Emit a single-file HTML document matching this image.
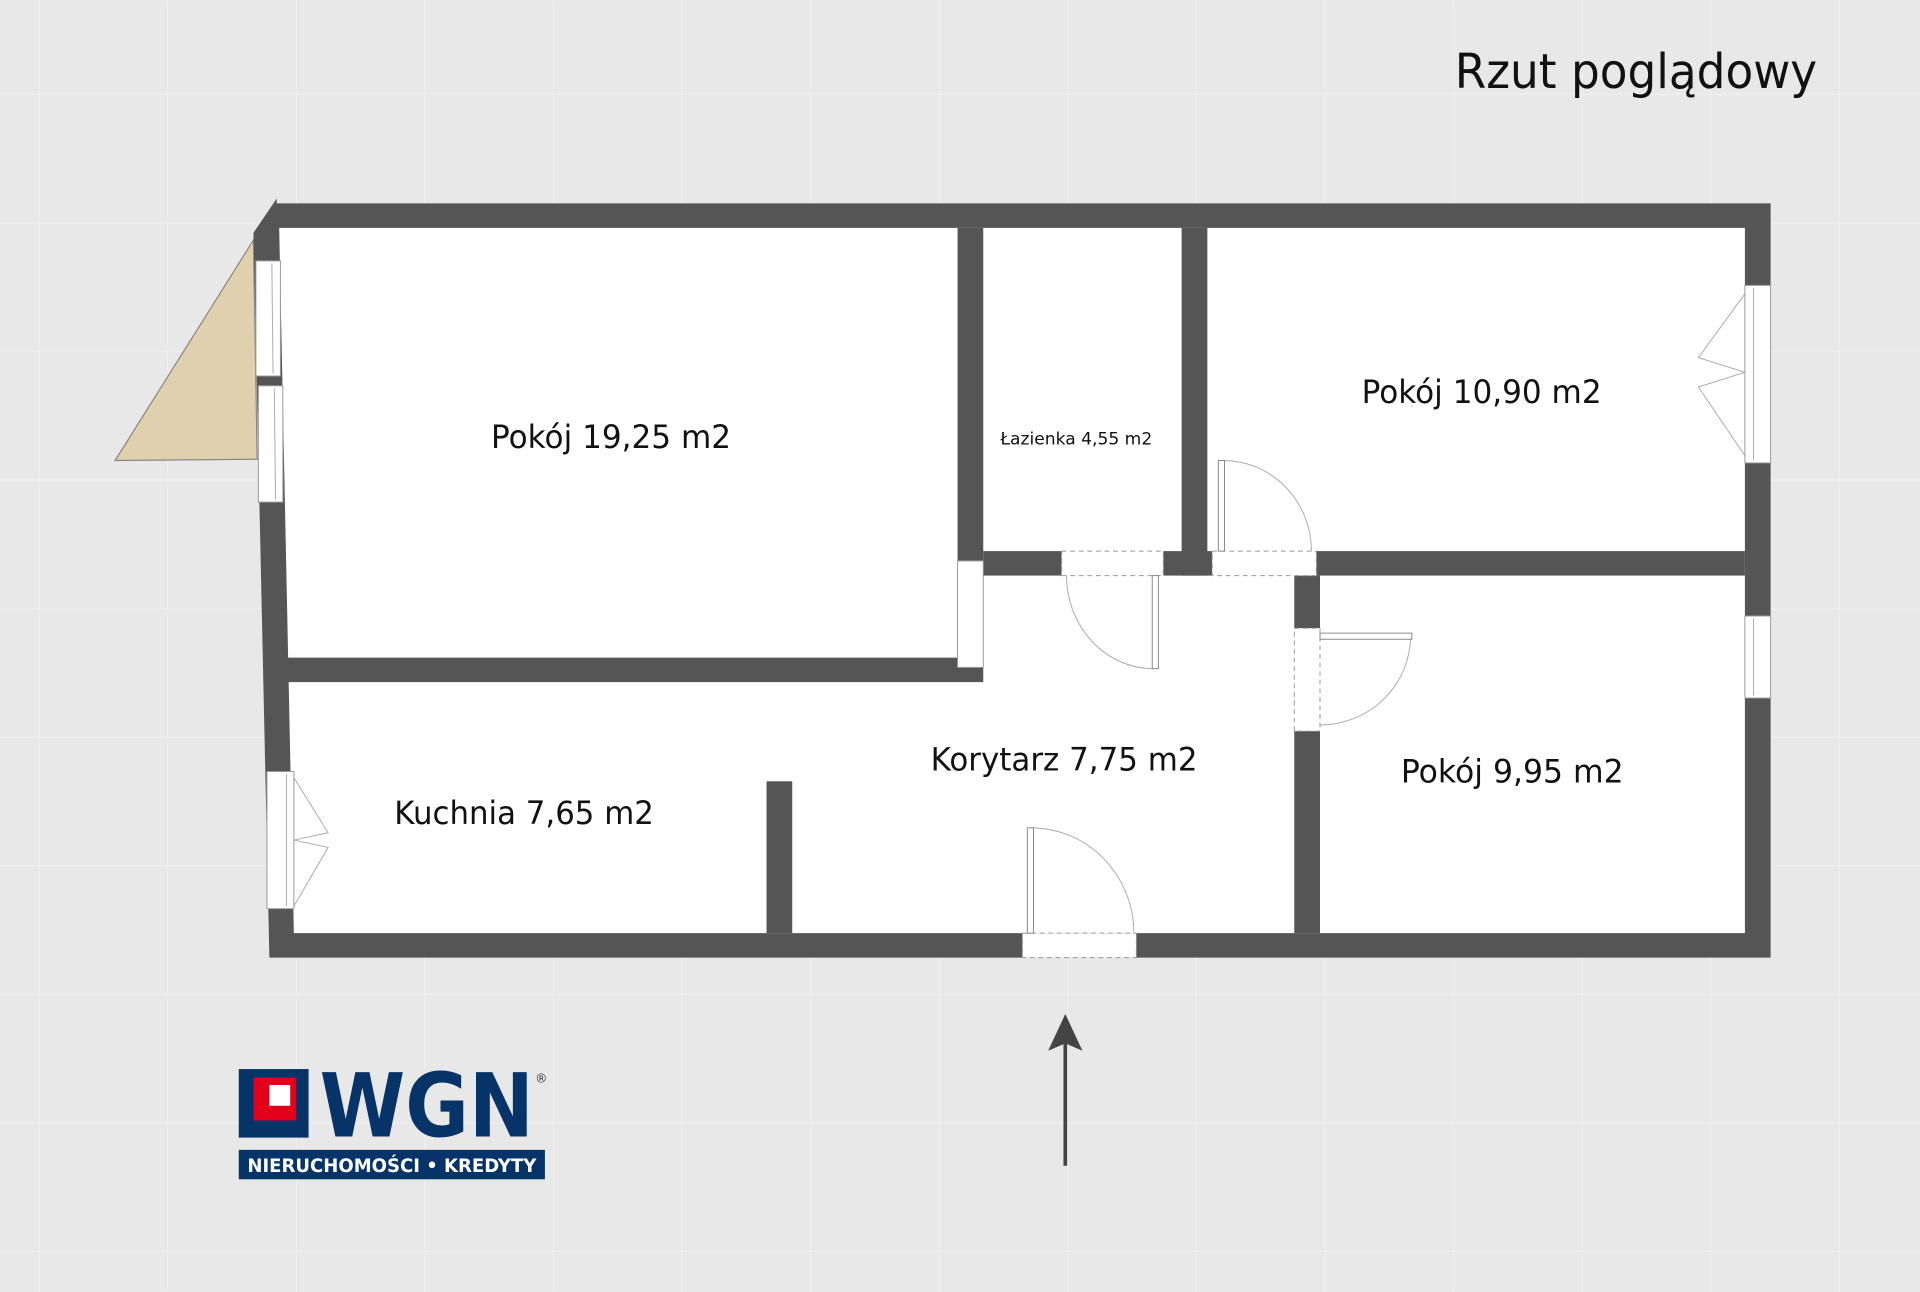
<!DOCTYPE html>
<html><head><meta charset="utf-8"><style>
html,body{margin:0;padding:0;background:#e8e8e8}
svg{display:block}
text{font-family:"DejaVu Sans","Liberation Sans",sans-serif}
</style></head><body>
<svg width="1920" height="1292" viewBox="0 0 1568 1055" xmlns="http://www.w3.org/2000/svg">
<rect width="1568" height="1055" fill="#e8e8e8"/>
<g stroke="#efefef" stroke-width="1">
<line x1="32" y1="0" x2="32" y2="1055"/><line x1="137" y1="0" x2="137" y2="1055"/><line x1="242" y1="0" x2="242" y2="1055"/><line x1="347" y1="0" x2="347" y2="1055"/><line x1="452" y1="0" x2="452" y2="1055"/><line x1="557" y1="0" x2="557" y2="1055"/><line x1="662" y1="0" x2="662" y2="1055"/><line x1="767" y1="0" x2="767" y2="1055"/><line x1="872" y1="0" x2="872" y2="1055"/><line x1="977" y1="0" x2="977" y2="1055"/><line x1="1082" y1="0" x2="1082" y2="1055"/><line x1="1187" y1="0" x2="1187" y2="1055"/><line x1="1292" y1="0" x2="1292" y2="1055"/><line x1="1397" y1="0" x2="1397" y2="1055"/><line x1="1502" y1="0" x2="1502" y2="1055"/>
<line x1="0" y1="77" x2="1568" y2="77"/><line x1="0" y1="182" x2="1568" y2="182"/><line x1="0" y1="287" x2="1568" y2="287"/><line x1="0" y1="392" x2="1568" y2="392"/><line x1="0" y1="497" x2="1568" y2="497"/><line x1="0" y1="602" x2="1568" y2="602"/><line x1="0" y1="707" x2="1568" y2="707"/><line x1="0" y1="812" x2="1568" y2="812"/><line x1="0" y1="917" x2="1568" y2="917"/><line x1="0" y1="1022" x2="1568" y2="1022"/>
</g>
<text x="1188" y="72" font-size="39" fill="#111" textLength="296" lengthAdjust="spacingAndGlyphs">Rzut poglądowy</text>
<!-- balcony -->
<polygon points="207,196 210,375 94,376" fill="#e0d1ae" stroke="#888" stroke-width="1"/>
<g fill="#555">
<polygon points="207,190 226,162 226,166 1446,166 1446,782 220,782"/>
</g>
<polygon points="228,186 1425,186 1425,762 240,762" fill="#fff"/>
<g fill="#555">
<rect x="782" y="186" width="21" height="272"/>
<rect x="235" y="537" width="568" height="20"/>
<rect x="965" y="186" width="21" height="284"/>
<rect x="803" y="450" width="64" height="20"/>
<rect x="950" y="450" width="40" height="20"/>
<rect x="1075" y="450" width="350" height="20"/>
<rect x="1057" y="470" width="21" height="43"/>
<rect x="1057" y="597" width="21" height="165"/>
<rect x="626" y="638" width="21" height="124"/>
</g>
<g fill="#fff" stroke="#999" stroke-width="0.8">
<rect x="209" y="213" width="20" height="94"/>
<rect x="211" y="315" width="20" height="95"/>
<rect x="218" y="630" width="22" height="112"/>
<rect x="1425" y="233" width="21" height="145"/>
<rect x="1425" y="503" width="21" height="67"/>
<rect x="782" y="458" width="21" height="87"/>
</g>
<g stroke="#aaa" stroke-width="0.8" fill="none">
<line x1="222" y1="215" x2="223" y2="305"/><line x1="224" y1="317" x2="225" y2="408"/>
<line x1="234" y1="632" x2="234" y2="740"/><line x1="1432" y1="235" x2="1432" y2="376"/><line x1="1432" y1="505" x2="1432" y2="568"/>
<path d="M240,635 L268,680 L240,686 M240,686 L268,692 L240,740"/><path d="M1425,240 L1387,292 L1425,304 M1425,304 L1387,316 L1425,372"/>
</g>
<g fill="#fff" stroke="#999" stroke-width="0.8" stroke-dasharray="4,3">
<rect x="867" y="450" width="83" height="20"/>
<rect x="990" y="450" width="85" height="20"/>
<rect x="1057" y="513" width="21" height="84"/>
<rect x="835" y="762" width="93" height="20"/>
</g>
<g stroke="#aaa" stroke-width="0.8" fill="none">
<path d="M871,470 A71,76 0 0 0 942,546"/>
<path d="M999,376 A72,74 0 0 1 1071,450"/>
<path d="M1152,519 A74,73 0 0 1 1078,592"/>
<path d="M842,676 A84,86 0 0 1 926,762"/>
</g>
<g fill="#fff" stroke="#888" stroke-width="0.8">
<rect x="941" y="470" width="5" height="76"/>
<rect x="995" y="376" width="5" height="74"/>
<rect x="1078" y="517" width="75" height="5"/>
<rect x="839" y="676" width="5" height="86"/>
</g>
<g fill="#111" font-size="26" text-anchor="middle">
<text x="499" y="366" textLength="196" lengthAdjust="spacingAndGlyphs">Pokój 19,25 m2</text>
<text x="1210" y="329" textLength="196" lengthAdjust="spacingAndGlyphs">Pokój 10,90 m2</text>
<text x="869" y="629" textLength="218" lengthAdjust="spacingAndGlyphs">Korytarz 7,75 m2</text>
<text x="1235" y="639" textLength="182" lengthAdjust="spacingAndGlyphs">Pokój 9,95 m2</text>
<text x="428" y="673" textLength="212" lengthAdjust="spacingAndGlyphs">Kuchnia 7,65 m2</text>
<text x="879" y="363" font-size="14" textLength="124" lengthAdjust="spacingAndGlyphs">Łazienka 4,55 m2</text>
</g>
<line x1="870" y1="952" x2="870" y2="850" stroke="#444" stroke-width="3"/>
<polygon points="870,828 884,858 870,852 856,858" fill="#444"/>
<rect x="195" y="873" width="57" height="56" fill="#073468"/>
<rect x="207" y="880" width="35" height="35" fill="#e2001a"/>
<rect x="220" y="886" width="17" height="17" fill="#fff"/>
<text x="261" y="928" font-size="72" font-weight="bold" fill="#073468" font-family="Liberation Sans,sans-serif" textLength="175" lengthAdjust="spacingAndGlyphs">WGN</text>
<text x="437" y="884" font-size="10" fill="#333">®</text>
<rect x="195" y="939" width="250" height="24" fill="#073468"/>
<text x="320" y="957" font-size="15" font-weight="bold" fill="#fff" text-anchor="middle" font-family="Liberation Sans,sans-serif" textLength="236" lengthAdjust="spacingAndGlyphs">NIERUCHOMOŚCI • KREDYTY</text>
</svg>
</body></html>
